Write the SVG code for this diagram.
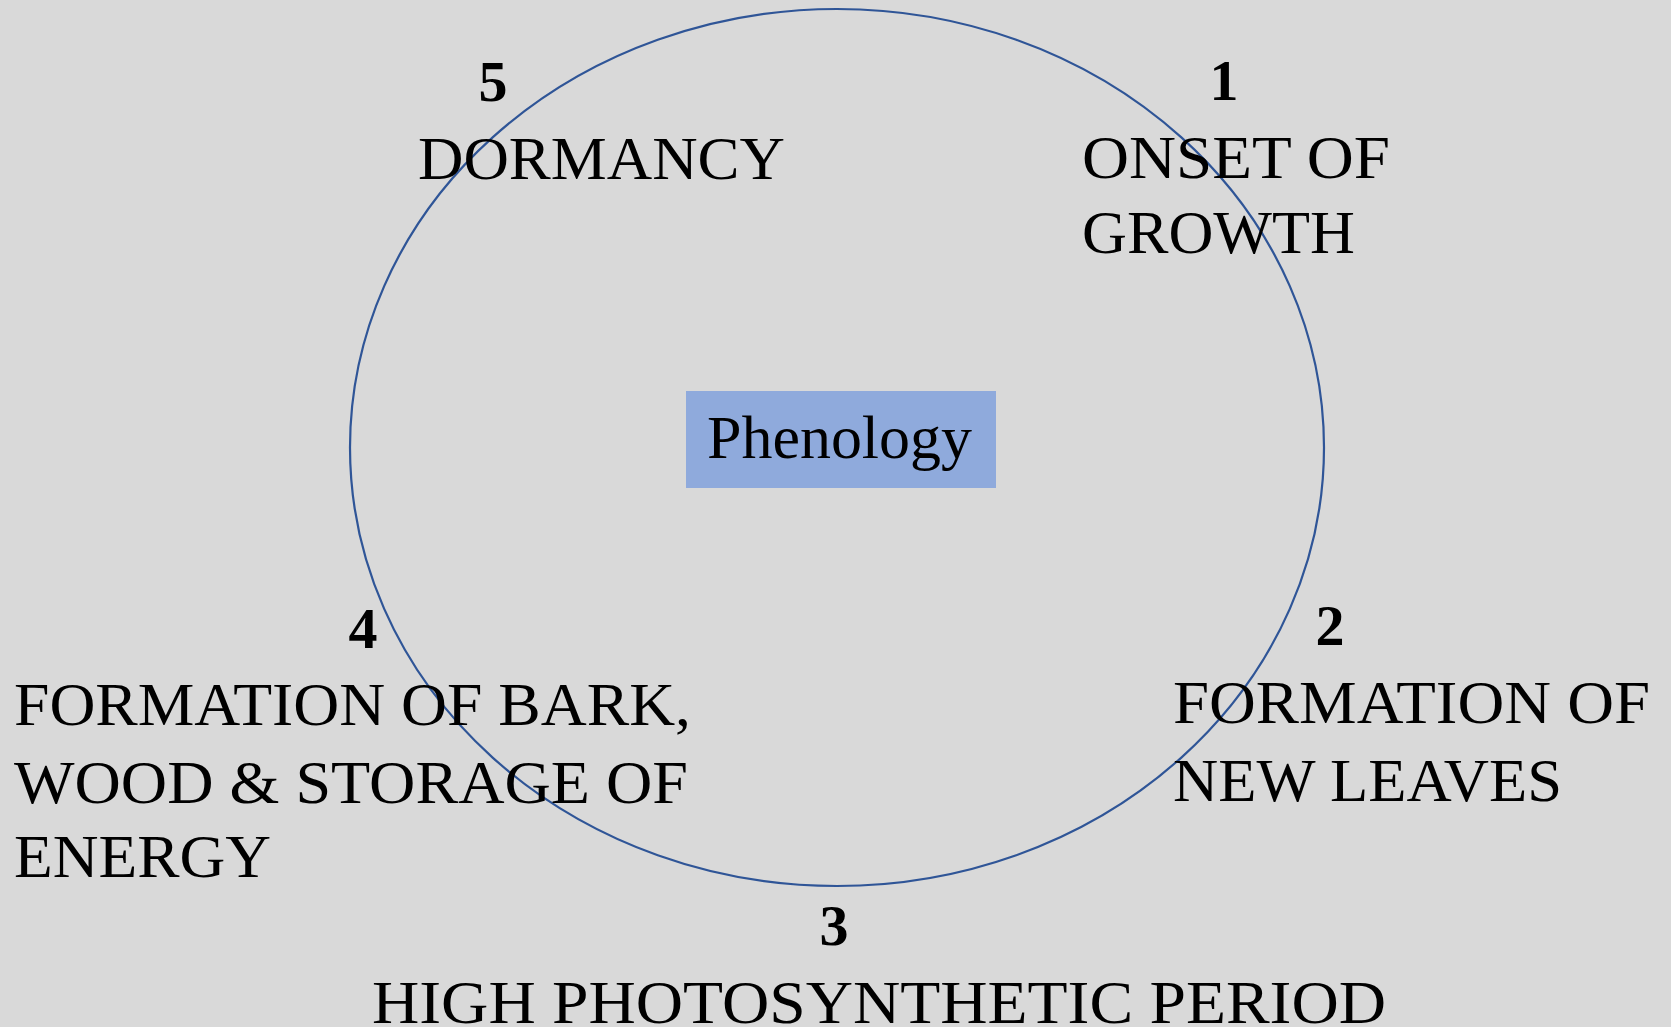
<svg xmlns="http://www.w3.org/2000/svg" width="1671" height="1027" viewBox="0 0 1671 1027">
<style>
.lbl{font-family:"Liberation Serif","Times New Roman",serif;font-size:62px;fill:#000}
.num{font-family:"Liberation Serif","Times New Roman",serif;font-size:58px;font-weight:bold;fill:#000;text-anchor:middle}
.ring{fill:none;stroke:#2F5597;stroke-width:2.2}
</style>
<rect x="0" y="0" width="1671" height="1027" fill="#D9D9D9"/>
<g id="connectors">
<ellipse class="ring" cx="837" cy="447.5" rx="487" ry="438.5"/>
</g>
<g id="center">
<rect x="686" y="391" width="310" height="97" fill="#8FAADC"/>
<text class="lbl" x="707" y="458" font-size="59" textLength="265" lengthAdjust="spacingAndGlyphs">Phenology</text>
</g>
<g id="stage1">
<text class="num" x="1224" y="100">1</text>
<text class="lbl" x="1082" y="178" textLength="308" lengthAdjust="spacingAndGlyphs">ONSET OF</text>
<text class="lbl" x="1082" y="253" textLength="273" lengthAdjust="spacingAndGlyphs">GROWTH</text>
</g>
<g id="stage2">
<text class="num" x="1330" y="645">2</text>
<text class="lbl" x="1173" y="723" textLength="477" lengthAdjust="spacingAndGlyphs">FORMATION OF</text>
<text class="lbl" x="1173" y="801" textLength="389" lengthAdjust="spacingAndGlyphs">NEW LEAVES</text>
</g>
<g id="stage3">
<text class="num" x="834" y="945">3</text>
<text class="lbl" x="372" y="1023" textLength="1014" lengthAdjust="spacingAndGlyphs">HIGH PHOTOSYNTHETIC PERIOD</text>
</g>
<g id="stage4">
<text class="num" x="363" y="648">4</text>
<text class="lbl" x="14" y="725" textLength="677" lengthAdjust="spacingAndGlyphs">FORMATION OF BARK,</text>
<text class="lbl" x="14" y="803" textLength="674" lengthAdjust="spacingAndGlyphs">WOOD &amp; STORAGE OF</text>
<text class="lbl" x="14" y="877" textLength="257" lengthAdjust="spacingAndGlyphs">ENERGY</text>
</g>
<g id="stage5">
<text class="num" x="493" y="101">5</text>
<text class="lbl" x="418" y="179" textLength="367" lengthAdjust="spacingAndGlyphs">DORMANCY</text>
</g>
</svg>
